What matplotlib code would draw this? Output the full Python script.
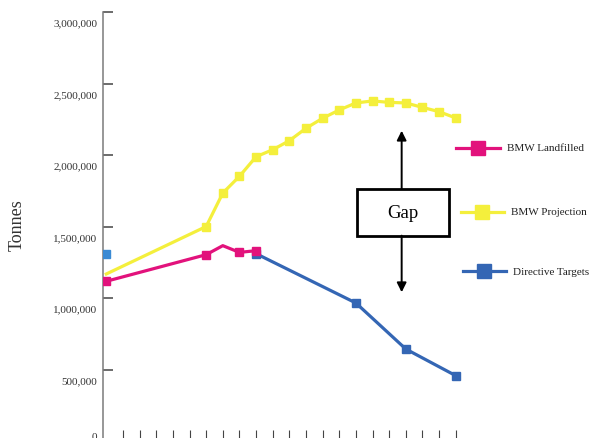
import matplotlib
matplotlib.use("Agg")
import matplotlib.pyplot as plt
import matplotlib.transforms as mtransforms
from matplotlib.patches import Rectangle
from matplotlib.ticker import FuncFormatter

# year index, 0 = 1995 ... 21 = 2016
landfilled_x = [0, 6, 7, 8, 9]
landfilled_y = [1117000, 1303000, 1366000, 1319000, 1331000]

projection_x = [0, 6, 7, 8, 9, 10, 11, 12, 13, 14, 15, 16, 17, 18, 19, 20, 21]
projection_y = [1168000, 1500000, 1734000, 1851000, 1988000, 2037000, 2100000,
                2187000, 2257000, 2315000, 2364000, 2378000, 2368000, 2364000,
                2333000, 2303000, 2259000]

targets_x = [9, 15, 18, 21]
targets_y = [1310000, 965000, 643000, 457000]

baseline_x = [0]
baseline_y = [1311000]

y_ticks = [0, 500000, 1000000, 1500000, 2000000, 2500000, 3000000]
x_ticks = list(range(1, 22))

MAGENTA = "#e2127c"
YELLOW = "#f4ef3c"
BLUE = "#3466b4"
LIGHT_BLUE = "#3a8ad4"
SERIF = "Liberation Serif"

fig = plt.figure(figsize=(5.9, 4.39), dpi=100)
ax = fig.add_axes([103 / 590, -3 / 439, 488 / 590, 429 / 439])
ax.set_xlim(-0.2, 29.13)
ax.set_ylim(0, 3000000)

ax.plot(targets_x, targets_y, color=BLUE, lw=2.3, marker="s", ms=6, zorder=3)
ax.plot(projection_x, projection_y, color=YELLOW, lw=2.3, marker="s", ms=6,
        markevery=list(range(1, len(projection_x))), zorder=4)
ax.plot(landfilled_x, landfilled_y, color=MAGENTA, lw=2.3, marker="s", ms=6,
        markevery=[0, 1, 3, 4], zorder=5)
ax.plot(baseline_x, baseline_y, color=LIGHT_BLUE, lw=0, marker="s", ms=6, zorder=5)

for s in ["top", "right"]:
    ax.spines[s].set_visible(False)
ax.spines["left"].set_color("#7a7a7a")
ax.spines["left"].set_linewidth(1.1)
ax.spines["left"].set_bounds(0, 3000000)
ax.spines["bottom"].set_visible(False)

ax.set_yticks(y_ticks)
ax.yaxis.set_major_formatter(FuncFormatter(lambda v, p: f"{int(v):,}"))
ax.tick_params(axis="y", direction="in", length=7.2, width=1.1, color="#444444",
               labelsize=8, labelcolor="#333333", pad=4)
ax.set_xticks(x_ticks)
ax.set_xticklabels([])
ax.tick_params(axis="x", direction="in", length=8, width=0.8, color="#444444")

# labels sit a little below their ticks in the original; the 0 is pulled up
for tick, val in zip(ax.yaxis.get_major_ticks(), y_ticks):
    dy = 4 / 72 if val == 0 else -7.2 / 72
    off = mtransforms.ScaledTranslation(0, dy, fig.dpi_scale_trans)
    tick.label1.set_transform(tick.label1.get_transform() + off)
    tick.label1.set_fontfamily(SERIF)

fig.text(17 / 590, 1 - 225 / 439, "Tonnes", rotation=90, fontsize=13,
         family=SERIF, color="#333333", ha="center", va="center")

# legend drawn by hand on the right
legend_items = [("BMW Landfilled", MAGENTA, 2049000, 21.0, 23.66),
                ("BMW Projection", YELLOW, 1604000, 21.3, 23.9),
                ("Directive Targets", BLUE, 1187000, 21.42, 24.02)]
for name, col, yv, x0, x1 in legend_items:
    ax.plot([x0, x1], [yv, yv], color=col, lw=2.3, clip_on=False)
    ax.plot([(x0 + x1) / 2], [yv], color=col, marker="s", ms=10, clip_on=False)
    ax.text(x1 + 0.45, yv, name, fontsize=8, family=SERIF, color="#222222",
            ha="left", va="center")

# gap box and arrows
ax.add_patch(Rectangle((15.05, 1436000), 5.57, 326000, fill=False,
                       edgecolor="black", lw=2.0, zorder=6))
ax.text(17.83, 1599000, "Gap", fontsize=13.5, family=SERIF, ha="center",
        va="center", zorder=6)
ax.annotate("", xy=(17.75, 2170000), xytext=(17.75, 1762000),
            arrowprops=dict(arrowstyle="-|>", lw=1.4, color="black",
                            mutation_scale=14, shrinkA=0, shrinkB=0))
ax.annotate("", xy=(17.75, 1040000), xytext=(17.75, 1436000),
            arrowprops=dict(arrowstyle="-|>", lw=1.4, color="black",
                            mutation_scale=14, shrinkA=0, shrinkB=0))

fig.savefig("out.png", dpi=100)
